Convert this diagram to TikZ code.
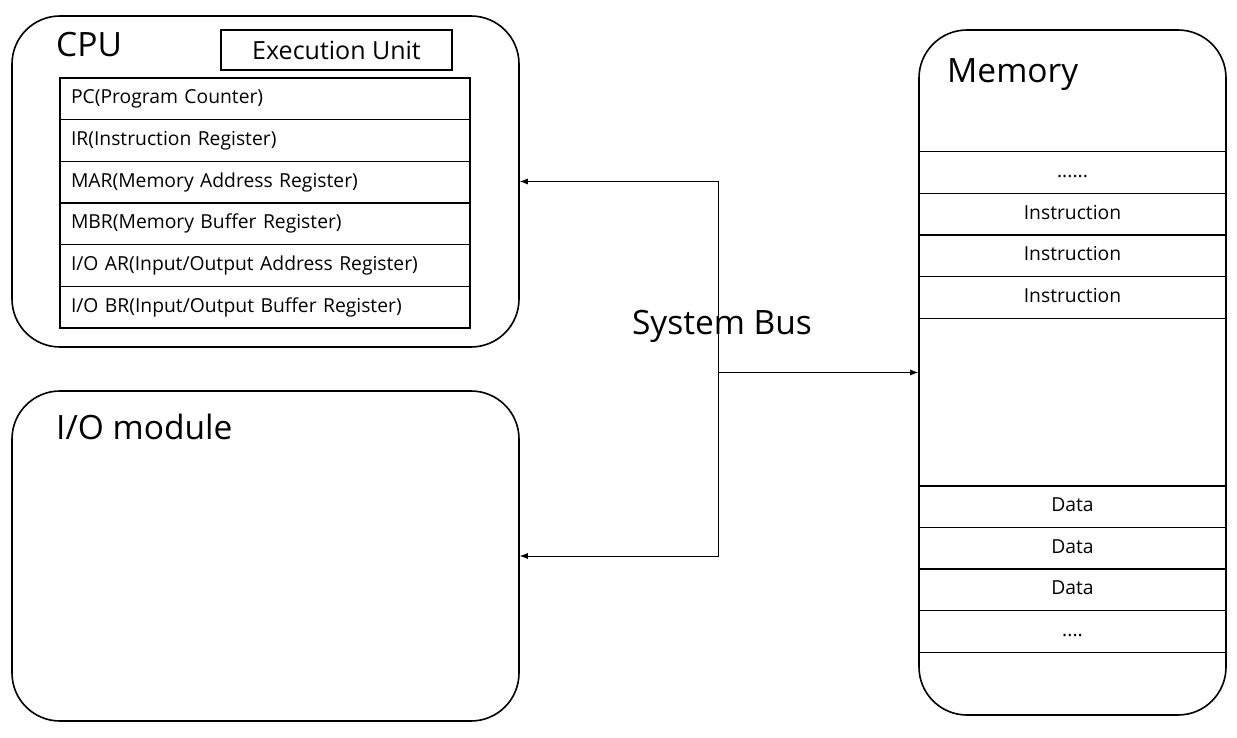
\documentclass[tikz,border=0pt]{standalone}
\usepackage{fontspec}
\setmainfont{Open Sans}
\usetikzlibrary{positioning,arrows.meta}
\newcommand{\celldotslong}{......}
\newcommand{\celldotsshort}{....}

\begin{document}
\begin{tikzpicture}[x=1pt,y=-1pt,
		unitbox/.style={draw, line width=1.6pt, rounded corners=48pt, inner sep=0pt},
		regbox/.style={draw, line width=1.1pt, text width=388pt, inner xsep=11pt, inner ysep=0pt,
			minimum height=41.67pt, text height=15pt, text depth=5pt, align=left,
			font=\fontsize{19.3}{19.3}\selectfont},
		cellbox/.style={draw, line width=1.1pt, minimum width=307pt, minimum height=41.6pt,
			inner sep=0pt, text height=15pt, text depth=5pt, font=\fontsize{19.3}{19.3}\selectfont},
		unitlabel/.style={anchor=base west, inner sep=0pt, font=\fontsize{33.5}{33.5}\selectfont},
		bus/.style={line width=0.8pt, -{Latex[length=8pt,width=6pt]}}
	]
	\useasboundingbox (0,0) rectangle (1237,738);
	% ===== CPU =====
	\node[unitbox, minimum width=507pt, minimum height=331pt] (cpu) at (265.5,181.5) {};
	\node[unitlabel] (cpulabel) at (56,57) {CPU};
	\node[draw, line width=1.6pt, minimum width=231pt, minimum height=40pt, inner sep=0pt,
		text height=19pt, text depth=0pt, font=\fontsize{25}{25}\selectfont] (exec) at (336.5,50) {Execution Unit};
	% Registers
	\foreach \i/\lab in {1/{PC(Program Counter)}, 2/{IR(Instruction Register)}, 3/{MAR(Memory Address Register)},
		4/{MBR(Memory Buffer Register)}, 5/{I/O AR(Input/Output Address Register)}, 6/{I/O BR(Input/Output Buffer Register)}} {
		\node[regbox] (reg\i) at (265,78+41.67*\i-20.83) {\lab};
	}
	% ===== I/O module =====
	\node[unitbox, minimum width=507pt, minimum height=330pt] (io) at (265.5,556) {};
	\node[unitlabel] (iolabel) at (56,439) {I/O module};
	% ===== Memory =====
	\node[unitbox, minimum width=307pt, minimum height=685pt] (mem) at (1072.5,372.5) {};
	\node[unitlabel] (memlabel) at (947,83) {Memory};
	\foreach \i/\lab in {1/\celldotslong, 2/Instruction, 3/Instruction, 4/Instruction} {
		\node[cellbox] (cell\i) at (1072.5,152+41.5*\i-20.75) {\lab};
	}
	\foreach \i/\lab in {5/Data, 6/Data, 7/Data, 8/\celldotsshort} {
		\node[cellbox] (cell\i) at (1072.5,486+41.5*\i-186.75) {\lab};
	}
	% ===== System bus =====
	\path (mem.west) ++(-200,0) coordinate (busjoin);
	\draw[bus] (busjoin) |- (cpu.east);
	\draw[bus] (busjoin) |- (io.east);
	\draw[bus] (busjoin) -- (mem.west);
	\node[unitlabel, anchor=base] (buslabel) at (722,334) {System Bus};
\end{tikzpicture}
\end{document}
